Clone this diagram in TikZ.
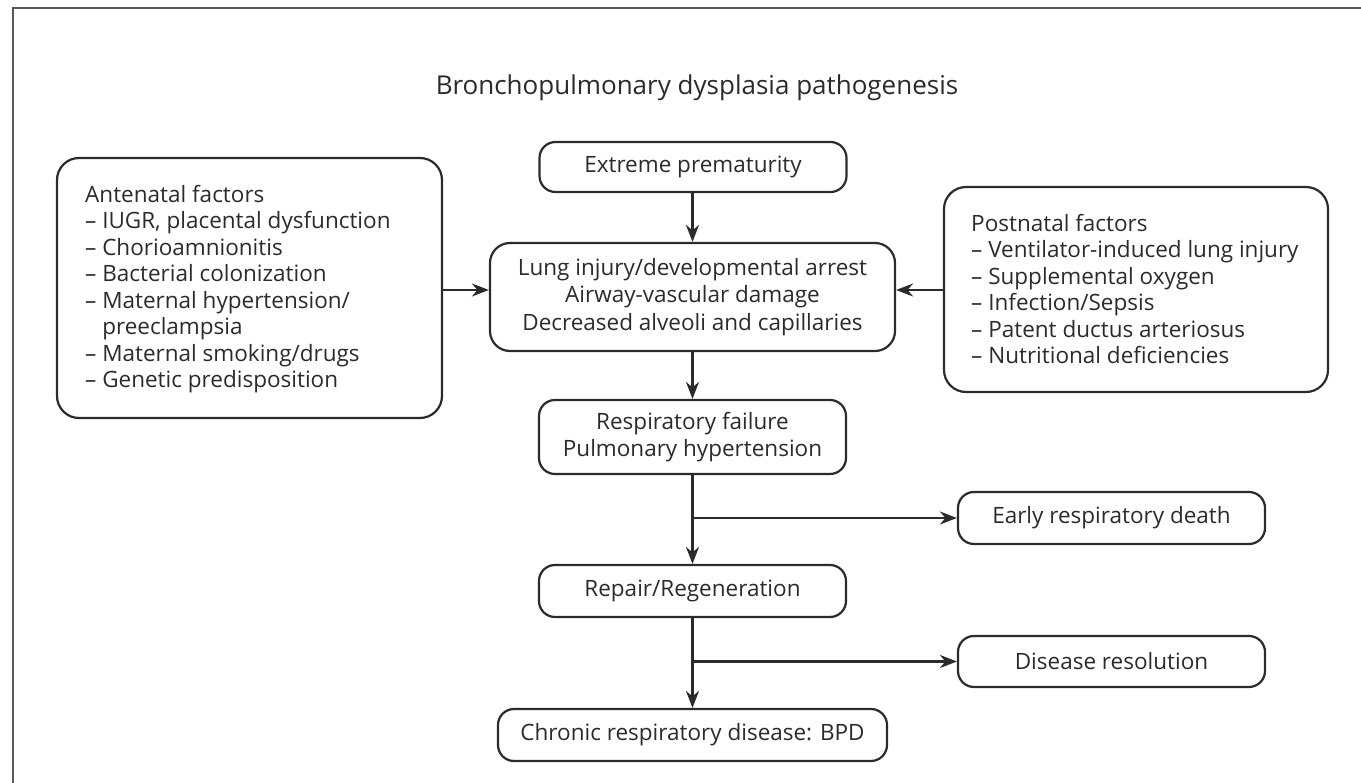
\documentclass[tikz,border=0pt]{standalone}
\usepackage{fontspec}
\setmainfont{Open Sans}
\usetikzlibrary{arrows.meta}
\definecolor{ink}{HTML}{2B2B2B}
\begin{document}
\begin{tikzpicture}[x=1pt,y=-1pt,
  box/.style={draw=ink,line width=2.2pt,rounded corners=16pt,inner sep=0pt,align=center,font=\fontsize{22.5}{27.5}\selectfont,text=ink},
  bigbox/.style={draw=ink,line width=2.2pt,rounded corners=22pt,inner sep=0pt},
  listtext/.style={inner sep=0pt,align=left,anchor=west,font=\fontsize{22.5}{26.5}\selectfont,text=ink},
  arr/.style={draw=ink,line width=2.2pt,-{Stealth[length=17pt,width=13pt]}}]
\useasboundingbox (0,0) rectangle (1361,783);
\fill[white] (0,0) rectangle (1361,783);
\draw[line width=2pt,draw=black!65] (1361,8) -- (13,8) -- (13,783);
\node[font=\fontsize{26}{28}\selectfont,text=ink] (title) at (697,88) {Bronchopulmonary dysplasia pathogenesis};
\node[box,minimum width=307pt,minimum height=50pt] (ext) at (693,167) {Extreme prematurity};
\node[box,rounded corners=20pt,minimum width=405pt,minimum height=108pt,font=\fontsize{22.5}{27.5}\selectfont] (lung) at (692.5,297) {Lung injury/developmental arrest\\Airway-vascular damage\\Decreased alveoli and capillaries};
\node[bigbox,minimum width=385pt,minimum height=260pt] (ante) at (249.5,288) {};
\node[listtext] (antetext) at (85,289) {Antenatal factors\\
-- IUGR, placental dysfunction\\
-- Chorioamnionitis\\
-- Bacterial colonization\\
-- Maternal hypertension/\\
\phantom{-- }preeclampsia\\
-- Maternal smoking/drugs\\
-- Genetic predisposition};
\node[bigbox,minimum width=384pt,minimum height=205pt] (post) at (1136,289.5) {};
\node[listtext] (posttext) at (971,289) {Postnatal factors\\
-- Ventilator-induced lung injury\\
-- Supplemental oxygen\\
-- Infection/Sepsis\\
-- Patent ductus arteriosus\\
-- Nutritional deficiencies};
\node[box,minimum width=307pt,minimum height=74pt,font=\fontsize{22.5}{27}\selectfont] (resp) at (692.5,437) {Respiratory failure\\Pulmonary hypertension};
\node[box,minimum width=307pt,minimum height=52pt] (rep) at (692.5,591) {Repair/Regeneration};
\node[box,minimum width=389pt,minimum height=52pt] (chr) at (692.5,735) {Chronic respiratory disease: BPD};
\node[box,minimum width=307pt,minimum height=52pt] (early) at (1111.5,518) {Early respiratory death};
\node[box,minimum width=307pt,minimum height=51pt] (res) at (1111.5,661.5) {Disease resolution};
\coordinate (b1) at (lung.south |- early.west);
\coordinate (b2) at (lung.south |- res.west);
\draw[arr] (ext.south -| lung.north) -- (lung.north);
\draw[arr] (ante.east |- 0,290) -- (lung.west |- 0,290);
\draw[arr] (post.west |- 0,290) -- (lung.east |- 0,290);
\draw[arr] (lung.south) -- (resp.north);
\draw[arr] (resp.south) -- (rep.north);
\draw[arr] (b1) -- (early.west);
\draw[arr] (rep.south) -- (chr.north);
\draw[arr] (b2) -- (res.west);
\end{tikzpicture}
\end{document}
